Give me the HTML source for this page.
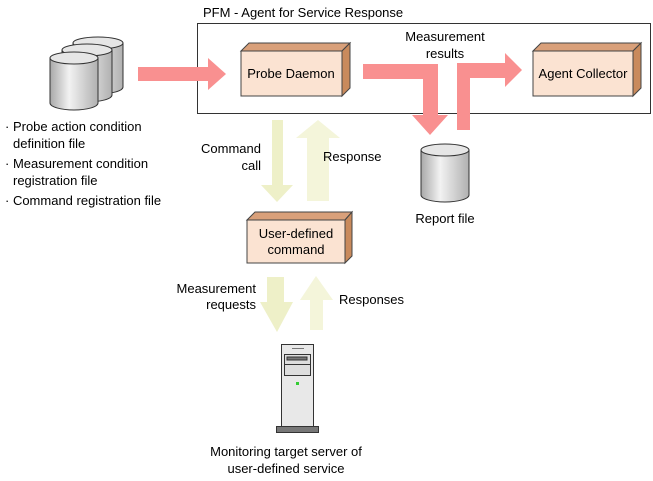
<!DOCTYPE html>
<html><head><style>body{margin:0;background:#fff}svg{display:block}text{font-family:"Liberation Sans",Arial,sans-serif;font-size:13px;fill:#000}</style></head><body>
<svg width="653" height="481" viewBox="0 0 653 481">
<defs>
<linearGradient id="cg" x1="0" x2="1"><stop offset="0" stop-color="#a8a8a8"/><stop offset="0.4" stop-color="#f2f2f2"/><stop offset="1" stop-color="#b0b0b0"/></linearGradient>
</defs>
<text x="203" y="17">PFM - Agent for Service Response</text>
<rect x="197.5" y="23.5" width="453" height="90" fill="#fff" stroke="#333"/>
<!-- cylinders -->
<g stroke="#333" stroke-width="1">
<path d="M73 43 v44 a25 7 0 0 0 50 0 v-44" fill="url(#cg)"/><ellipse cx="98" cy="43" rx="25" ry="6" fill="#e6e6e6"/>
<path d="M62 50 v45 a25 7 0 0 0 50 0 v-45" fill="url(#cg)"/><ellipse cx="87" cy="50" rx="25" ry="6" fill="#e6e6e6"/>
<path d="M50 58 v45 a24 7 0 0 0 48 0 v-45" fill="url(#cg)"/><ellipse cx="74" cy="58" rx="24" ry="6" fill="#e6e6e6"/>
</g>
<text x="5" y="131">· Probe action condition</text>
<text x="13" y="148">definition file</text>
<text x="5" y="168">· Measurement condition</text>
<text x="13" y="185">registration file</text>
<text x="5" y="205">· Command registration file</text>
<!-- pink arrows -->
<polygon points="138,67 208,67 208,58 226,74 208,90 208,81 138,81" fill="#f99090"/>
<polygon points="363,64 438,64 438,115 448,115 430,135 412,115 423,115 423,79 363,79" fill="#f99090"/>
<polygon points="457,130 470,130 470,78 505,78 505,87 522,70 505,53 505,63 457,63" fill="#f99090"/>
<!-- boxes -->
<g stroke="#444" stroke-width="1">
<polygon points="241,51 249,43 350,43 342,51" fill="#d9a07a"/><polygon points="342,51 350,43 350,88 342,96" fill="#c98a5c"/><rect x="241" y="51" width="101" height="45" fill="#fbe3d2"/>
<polygon points="533,51 541,43 641,43 633,51" fill="#d9a07a"/><polygon points="633,51 641,43 641,88 633,96" fill="#c98a5c"/><rect x="533" y="51" width="100" height="45" fill="#fbe3d2"/>
<polygon points="247,220 255,212 352,212 345,220" fill="#d9a07a"/><polygon points="345,220 352,212 352,256 345,263" fill="#c98a5c"/><rect x="247" y="220" width="98" height="43" fill="#fbe3d2"/>
</g>
<text x="291" y="78" text-anchor="middle">Probe Daemon</text>
<text x="583" y="78" text-anchor="middle">Agent Collector</text>
<text x="296" y="238" text-anchor="middle">User-defined</text>
<text x="296" y="254" text-anchor="middle">command</text>
<text x="445" y="41" text-anchor="middle">Measurement</text>
<text x="445" y="58" text-anchor="middle">results</text>
<!-- report file -->
<g stroke="#333"><path d="M421 150 v45 a24 7 0 0 0 48 0 v-45" fill="url(#cg)"/><ellipse cx="445" cy="150" rx="24" ry="6" fill="#e6e6e6"/></g>
<text x="445" y="223" text-anchor="middle">Report file</text>
<!-- yellow arrows -->
<polygon points="272,120 283,120 283,185 293,185 277,202 261,185 272,185" fill="#eef0c8"/>
<polygon points="318,120 340,138 329,138 329,201 307,201 307,138 296,138" fill="#f4f5da"/>
<text x="261" y="153" text-anchor="end">Command</text>
<text x="261" y="170" text-anchor="end">call</text>
<text x="323" y="161">Response</text>
<polygon points="267,277 284,277 284,302 293,302 277,332 260,302 267,302" fill="#eef0c8"/>
<polygon points="316,276 333,300 323,300 323,330 310,330 310,300 300,300" fill="#f4f5da"/>
<text x="256" y="293" text-anchor="end">Measurement</text>
<text x="256" y="309" text-anchor="end">requests</text>
<text x="339" y="304">Responses</text>
<!-- server -->
<g stroke="#333"><rect x="281.5" y="344.5" width="32" height="82" fill="#e8e8e8"/>
<rect x="284.5" y="354.5" width="26" height="21" fill="#ddd"/><line x1="284" y1="364.5" x2="310" y2="364.5"/><rect x="287" y="357" width="20" height="3" fill="#777"/>
<line x1="292" y1="348.5" x2="304" y2="348.5" stroke="#777"/>
<rect x="276.5" y="426.5" width="42" height="6" fill="#777"/></g>
<rect x="296" y="382" width="3" height="3" fill="#3c3"/>
<text x="286" y="456" text-anchor="middle">Monitoring target server of</text>
<text x="286" y="473" text-anchor="middle">user-defined service</text>
</svg>
</body></html>
